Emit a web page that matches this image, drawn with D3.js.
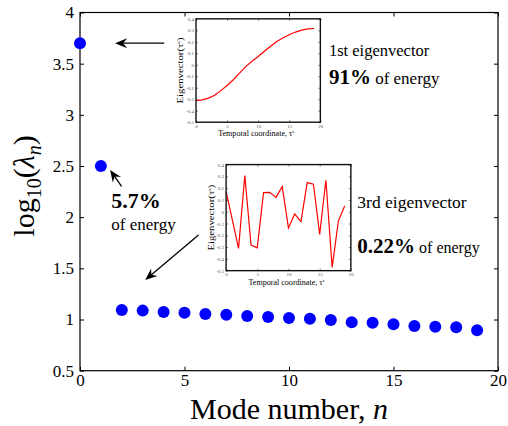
<!DOCTYPE html>
<html><head><meta charset="utf-8">
<script src="https://cdn.jsdelivr.net/npm/d3@7"></script>
<style>
body{margin:0;background:#fff;}
svg text, svg tspan{font-family:"Liberation Serif","Times New Roman",Times,serif !important;}
</style></head>
<body><svg id="c" width="508" height="426"></svg>
<script>
// ---- data ----
const modeNumbers = [0,1,2,3,4,5,6,7,8,9,10,11,12,13,14,15,16,17,18,19];
const logLambda = [3.70,2.50,1.093,1.087,1.074,1.067,1.054,1.047,1.035,1.025,1.015,1.008,0.995,0.973,0.969,0.953,0.937,0.930,0.924,0.895];
const xTicks = [0,5,10,15,20];
const yTicks = [0.5,1,1.5,2,2.5,3,3.5,4];
const tau = [0,1,2,3,4,5,6,7,8,9,10,11,12,13,14,15,16,17,18,19];
const eigvec1 = [-0.312,-0.305,-0.29,-0.265,-0.225,-0.18,-0.13,-0.072,-0.016,0.03,0.072,0.118,0.162,0.202,0.235,0.262,0.285,0.302,0.312,0.316];
const eigvec3 = [0.17,-0.07,-0.311,0.307,-0.283,-0.306,0.162,0.165,0.122,0.213,-0.138,-0.019,-0.084,0.247,0.233,-0.192,0.267,-0.472,-0.079,0.049];
const insetXTicks = [0,5,10,15,20];
const insetYTicks = [0.4,0.3,0.2,0.1,0,-0.1,-0.2,-0.3,-0.4,-0.5];

const svg = d3.select("#c");
const L=80, R=498, T=12.5, B=370.7;
const x = d3.scaleLinear().domain([0,20]).range([L,R]);
const y = d3.scaleLinear().domain([0.5,4]).range([B,T]);

// axes
const tl = 4;
svg.append("g").attr("transform",`translate(0,${B})`)
  .call(d3.axisBottom(x).tickValues(xTicks).tickSize(-tl).tickPadding(3).tickFormat(d3.format("d")))
  .call(g=>{g.select(".domain").remove(); g.selectAll("text").attr("font-size",17).attr("fill","#000");});
svg.append("g").attr("transform",`translate(0,${T})`)
  .call(d3.axisTop(x).tickValues(xTicks).tickSize(-tl).tickFormat(""))
  .call(g=>g.select(".domain").remove());
svg.append("g").attr("transform",`translate(${L},0)`)
  .call(d3.axisLeft(y).tickValues(yTicks).tickSize(-tl).tickPadding(6).tickFormat(d=>String(d)))
  .call(g=>{g.select(".domain").remove(); g.selectAll("text").attr("font-size",17).attr("fill","#000");});
svg.append("g").attr("transform",`translate(${R},0)`)
  .call(d3.axisRight(y).tickValues(yTicks).tickSize(-tl).tickFormat(""))
  .call(g=>g.select(".domain").remove());
svg.append("rect").attr("x",L).attr("y",T).attr("width",R-L).attr("height",B-T)
  .attr("fill","none").attr("stroke","#000").attr("stroke-width",1.2);

// axis labels
svg.append("text").attr("x",289).attr("y",419).attr("text-anchor","middle").attr("font-size",30)
  .text("Mode number, ").append("tspan").attr("font-style","italic").text("n");
const yl = svg.append("text").attr("transform","translate(33.5,186) rotate(-90)").attr("text-anchor","middle").attr("font-size",30);
yl.append("tspan").text("log");
yl.append("tspan").attr("font-size",20).attr("dy",7).text("10");
yl.append("tspan").attr("dy",-7).text("(");
yl.append("tspan").attr("font-style","italic").text("λ");
yl.append("tspan").attr("font-size",20).attr("font-style","italic").attr("dy",7).text("n");
yl.append("tspan").attr("dy",-7).text(")");

// points
svg.append("g").selectAll("circle").data(modeNumbers).join("circle")
  .attr("cx",d=>x(d)).attr("cy",(d,i)=>y(logLambda[i])).attr("r",6).attr("fill","#0000ff");

// arrows (data coordinates)
function arrow(x1,y1,x2,y2){
  const ax1=x(x1), ay1=y(y1), ax2=x(x2), ay2=y(y2);
  const a=Math.atan2(ay2-ay1, ax2-ax1);
  const g=svg.append("g").attr("transform",`translate(${ax2},${ay2}) rotate(${a*180/Math.PI})`);
  const len=Math.hypot(ax2-ax1,ay2-ay1);
  g.append("line").attr("x1",-len).attr("y1",0).attr("x2",-7).attr("y2",0).attr("stroke","#000").attr("stroke-width",1.3);
  g.append("path").attr("d","M0,0 L-12,-5 L-8,0 L-12,5 Z").attr("fill","#000");
}
arrow(4.03,3.70,1.68,3.70);
arrow(1.99,2.30,1.44,2.462);
arrow(5.67,1.827,3.12,1.386);

// annotations
function ann(xv,yv,parts){
  const t=svg.append("text").attr("x",x(xv)).attr("y",y(yv));
  parts.forEach(p=>t.append("tspan").attr("font-size",p[1]).attr("font-weight",p[2]?"bold":"normal").text(p[0]));
}
ann(11.91,3.576,[["1st eigenvector",16.5]]);
ann(11.91,3.30,[["91%",21,true],[" of energy",17]]);
ann(1.50,2.09,[["5.7%",22,true]]);
ann(1.50,1.875,[["of energy",17]]);
ann(13.27,2.087,[["3rd eigenvector",17.5]]);
ann(13.27,1.648,[["0.22%",21,true],[" of energy",16]]);

// insets
function inset(x0,x1,y0,y1,vals){
  const px0=x(x0), px1=x(x1), py0=y(y0), py1=y(y1);
  const w=px1-px0, h=py1-py0;
  const g=svg.append("g").attr("transform",`translate(${px0},${py0})`);
  g.append("rect").attr("width",w).attr("height",h).attr("fill","#fff");
  const xi=d3.scaleLinear().domain([0,20]).range([0,w]);
  const yi=d3.scaleLinear().domain([-0.5,0.4]).range([h,0]);
  const st=g=>{g.select(".domain").remove(); g.selectAll("line").attr("stroke","#333").attr("stroke-width",0.6);
    g.selectAll("text").attr("font-size",5).attr("fill","#555");};
  g.append("g").attr("transform",`translate(0,${h})`).call(d3.axisBottom(xi).tickValues(insetXTicks).tickSize(-2).tickPadding(2)).call(st);
  g.append("g").call(d3.axisTop(xi).tickValues(insetXTicks).tickSize(-2).tickFormat("")).call(st);
  g.append("g").call(d3.axisLeft(yi).tickValues(insetYTicks).tickSize(-2).tickPadding(2).tickFormat(d=>String(d))).call(st);
  g.append("g").attr("transform",`translate(${w},0)`).call(d3.axisRight(yi).tickValues(insetYTicks).tickSize(-2).tickFormat("")).call(st);
  g.append("path").datum(tau).attr("fill","none").attr("stroke","#ff0000").attr("stroke-width",1.2)
    .attr("d",d3.line().x(d=>xi(d)).y((d,i)=>yi(vals[i])));
  g.append("rect").attr("width",w).attr("height",h).attr("fill","none").attr("stroke","#111").attr("stroke-width",1.4);
  const xl=g.append("text").attr("x",w/2-2).attr("y",h+14).attr("text-anchor","middle").attr("font-size",8.2)
    .attr("textLength",76).attr("lengthAdjust","spacingAndGlyphs");
  xl.append("tspan").text("Temporal coordinate, τ");
  xl.append("tspan").attr("font-size",5).attr("dy",-3).text("s");
  const ylab=g.append("text").attr("transform",`translate(-12.5,${h/2}) rotate(-90)`).attr("text-anchor","middle").attr("font-size",8.2)
    .attr("textLength",66).attr("lengthAdjust","spacingAndGlyphs");
  ylab.append("tspan").text("Eigenvector(τ");
  ylab.append("tspan").attr("font-size",5).attr("dy",-3).text("s");
  ylab.append("tspan").attr("dy",3).text(")");
}
inset(5.55,11.5,3.938,2.928,eigvec1);
inset(6.99,12.96,2.514,1.4775,eigvec3);
</script></body></html>
